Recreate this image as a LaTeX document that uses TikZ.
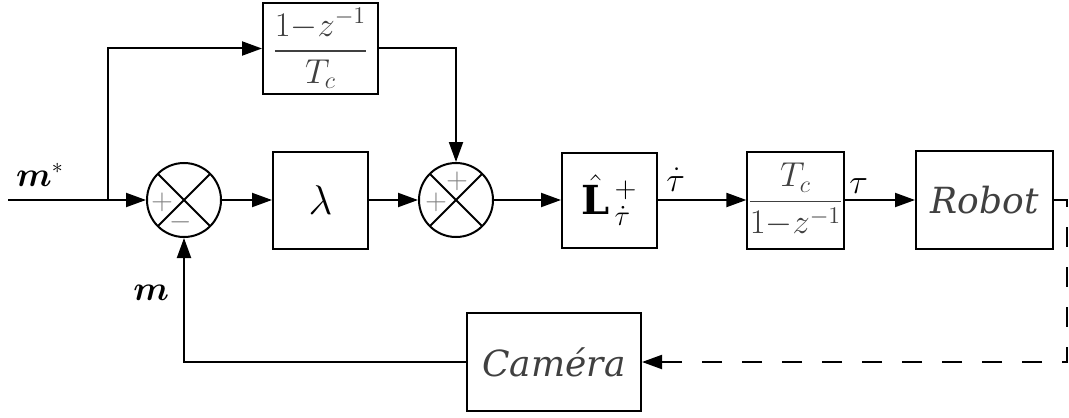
\documentclass[tikz,border=0pt]{standalone}
\usepackage{amsmath}
\usepackage{fontspec}
\setmainfont{DejaVu Serif}
\usetikzlibrary{arrows.meta}
\definecolor{txtgray}{RGB}{64,64,64}

\tikzset{
  arr/.style={-{Triangle[length=10pt,width=7pt]}},
  block/.style={draw,rectangle,line width=1pt,inner sep=0pt,text=txtgray},
  sumnode/.style={draw,circle,line width=1pt,minimum size=37pt,inner sep=0pt,
    path picture={\draw[line width=1pt]
      (path picture bounding box.north west)--(path picture bounding box.south east)
      (path picture bounding box.north east)--(path picture bounding box.south west);}},
  sgn/.style={text=gray,font=\fontsize{15}{15}\selectfont,inner sep=0pt},
  lbl/.style={font=\fontsize{16}{18}\selectfont,inner sep=3pt}
}

\begin{document}
\begin{tikzpicture}[x=0.5pt,y=-0.5pt,line width=1pt]
        \useasboundingbox (0,0) rectangle (1069,417);

        % blocs
        \node[block,minimum width=57.5pt,minimum height=45.5pt] (deriv) at (320.5,48.5)
            {\fontsize{17}{20}\selectfont $\dfrac{1{-}z^{-1}}{T_c}$};
        \node[sumnode] (sum1) at (184,200) {};
        \node[sumnode] (sum2) at (456,200) {};
        \node[block,minimum width=47.5pt,minimum height=48.5pt,text=black] (gain) at (320.5,200)
            {\fontsize{22}{26}\selectfont $\lambda$};
        \node[block,minimum width=47.5pt,minimum height=47.5pt,text=black] (inter) at (609.5,200)
            {\fontsize{20}{24}\selectfont $\hat{\mathbf{L}}^{\,+}_{\,\dot\tau}$};
        \node[block,minimum width=47.5pt,minimum height=48.5pt] (integ) at (795.5,200)
            {\fontsize{18}{21}\selectfont $\dfrac{T_c}{1{-}z^{-1}}$};
        \node[block,minimum width=68.5pt,minimum height=49pt] (robot) at (984.5,200)
            {\fontsize{18}{22}\selectfont\itshape Robot};
        \node[block,minimum width=87pt,minimum height=49pt] (camera) at (554,362)
            {\fontsize{18}{22}\selectfont\itshape Caméra};

        % signes
        \node[sgn] at (162,202) {$+$};
        \node[sgn] at (181,222) {$-$};
        \node[sgn] at (457,181) {$+$};
        \node[sgn] at (436,202) {$+$};

        \coordinate (in) at (8,200);
        \coordinate (br) at (108,200);
        \coordinate (corner) at (1067,200);

        % liaisons
        \draw[arr](in)--(sum1.west);
        \draw[arr](br)|-(deriv.west);
        \draw[arr](deriv.east)-|(sum2.north);
        \draw[arr](sum1.east)--(gain.west);
        \draw[arr](gain.east)--(sum2.west);
        \draw[arr](sum2.east)--(inter.west);
        \draw[arr](inter.east)--node[lbl,above,pos=0.2,yshift=1pt]{$\dot\tau$}(integ.west);
        \draw[arr](integ.east)--node[lbl,above,pos=0.2]{$\tau$}(robot.west);
        \draw[arr,dash pattern=on 10pt off 10pt](robot.east)--(corner)|-(camera.east);
        \draw[arr](camera.west)-|node[lbl,left,pos=0.78,xshift=-4pt]{$\boldsymbol{m}$}(sum1.south);

        \node[lbl] (mref) at (40,175) {$\boldsymbol{m}^{*}$};
    \end{tikzpicture}
\end{document}
